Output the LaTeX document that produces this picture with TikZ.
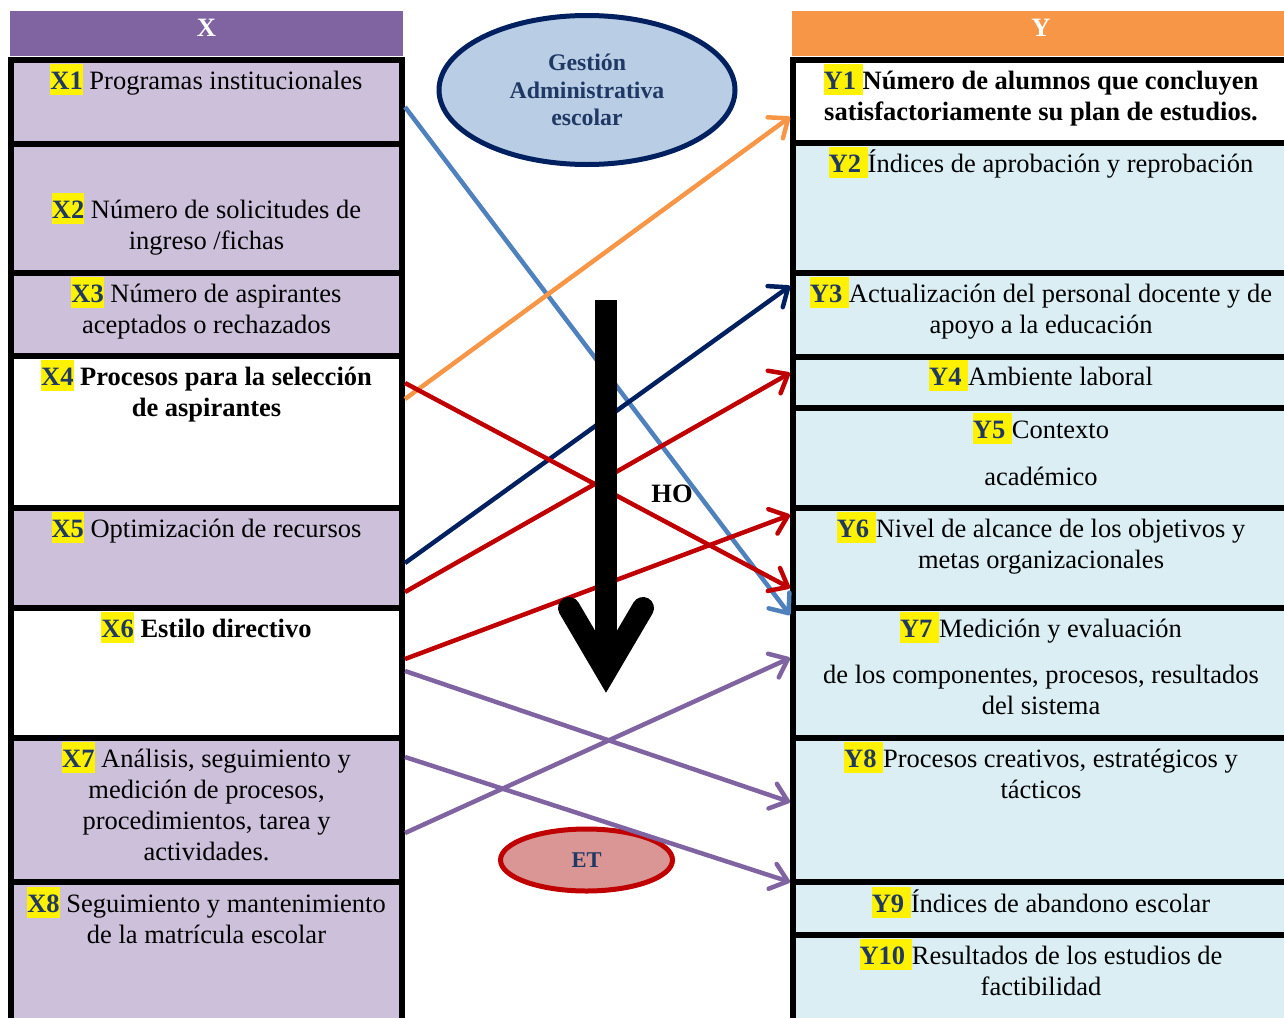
\documentclass[tikz,border=0pt]{standalone}
\usepackage{fontspec}
\setmainfont{Liberation Serif}
\usetikzlibrary{arrows.meta, shapes.geometric}
\definecolor{hdrX}{HTML}{8064A2}
\definecolor{hdrY}{HTML}{F79646}
\definecolor{cellX}{HTML}{CCC0DA}
\definecolor{cellY}{HTML}{DAEEF3}
\definecolor{labNavy}{HTML}{1F3864}
\definecolor{lnNavy}{HTML}{002060}
\definecolor{lnBlue}{HTML}{4F81BD}
\definecolor{lnRed}{HTML}{C00000}
\definecolor{lnOrange}{HTML}{F79646}
\definecolor{lnPurple}{HTML}{8064A2}
\definecolor{gestFill}{HTML}{B9CDE5}
\definecolor{etFill}{HTML}{D99694}
\newcommand{\etq}[1]{{\setlength{\fboxsep}{0pt}\colorbox{yellow}{\rule[-6pt]{0pt}{31pt}\textbf{\color{labNavy}#1}}}}

\begin{document}
\begin{tikzpicture}[x=1pt,y=-1pt]
    \tikzset{
      cell/.style={draw=black,line width=6pt,rectangle,inner sep=0pt},
      xcell/.style={cell,minimum width=391pt},
      ycell/.style={cell,minimum width=507pt},
      hdr/.style={rectangle,inner sep=0pt,minimum height=45pt},
      hdrtxt/.style={anchor=base,inner sep=0pt,text=white,font=\fontsize{26.5}{31}\selectfont\bfseries},
      txt/.style={anchor=base,align=center,inner sep=0pt,font=\fontsize{26.5}{31}\selectfont},
      txtb/.style={txt,font=\fontsize{26.5}{31}\selectfont\bfseries},
      lnk/.style={line width=4.5pt,-{Straight Barb[round,length=16pt,width=26pt]}},
      bigarrow/.style={line width=22pt,draw=black}
    }
    \def\xc{206.5}
    \def\yc{1041}
    \useasboundingbox (0,0) rectangle (1284,1017);
    \clip (0,0) rectangle (1284,1017);

    % column headers
    \node[hdr,fill=hdrX,minimum width=393pt] (hX) at (206.5,33.5) {};
    \node[hdr,fill=hdrY,minimum width=500pt] (hY) at (1042,33.5) {};
    \node[hdrtxt] (thX) at (\xc,36) {X};
    \node[hdrtxt] (thY) at (\yc,36) {Y};

    % cells
    \foreach \n/\t/\b/\f in {X1/60/144/cellX, X2/144/273/cellX, X3/273/356/cellX,
        X4/356/508/white, X5/508/608/cellX, X6/608/738/white, X7/738/882/cellX, X8/882/1030/cellX}
      \node[xcell,fill=\f,minimum height={\b-\t}] (\n) at (206.5,{(\t+\b)/2}) {};
    \foreach \n/\t/\b/\f in {Y1/60/143/white, Y2/143/273/cellY, Y3/273/357/cellY, Y4/357/408/cellY,
        Y5/408/508/cellY, Y6/508/608/cellY, Y7/608/738/cellY, Y8/738/882/cellY, Y9/882/935/cellY, Y10/935/1030/cellY}
      \node[ycell,fill=\f,minimum height={\b-\t}] (\n) at (1046.5,{(\t+\b)/2}) {};

    % texts X (base = last line)
    \node[txt] (tX1) at (\xc,89) {\etq{X1} Programas institucionales};
    \node[txt] (tX2) at (\xc,249) {\etq{X2} Número de solicitudes de\\ ingreso /fichas};
    \node[txt] (tX3) at (\xc,333) {\etq{X3} Número de aspirantes\\ aceptados o rechazados};
    \node[txtb] (tX4) at (\xc,416) {\etq{X4} Procesos para la selección\\ de aspirantes};
    \node[txt] (tX5) at (\xc,537) {\etq{X5} Optimización de recursos};
    \node[txtb] (tX6) at (\xc,637) {\etq{X6} Estilo directivo};
    \node[txt] (tX7) at (\xc,860) {\etq{X7} Análisis, seguimiento y\\ medición de procesos,\\ procedimientos, tarea y\\ actividades.};
    \node[txt] (tX8) at (\xc,943) {\etq{X8} Seguimiento y mantenimiento\\ de la matrícula escolar};

    % texts Y
    \node[txtb] (tY1) at (\yc,120) {\etq{Y1\ }Número de alumnos que concluyen\\ satisfactoriamente su plan de estudios.};
    \node[txt] (tY2) at (\yc,172) {\etq{Y2\ }Índices de aprobación y reprobación};
    \node[txt] (tY3) at (\yc,333) {\etq{Y3\ }Actualización del personal docente y de\\ apoyo a la educación};
    \node[txt] (tY4) at (\yc,385) {\etq{Y4\ }Ambiente laboral};
    \node[txt] (tY5) at (\yc,485) {\etq{Y5\ }Contexto\\[16pt] académico};
    \node[txt] (tY6) at (\yc,568) {\etq{Y6\ }Nivel de alcance de los objetivos y\\ metas organizacionales};
    \node[txt] (tY7) at (\yc,714) {\etq{Y7\ }Medición y evaluación\\[15pt] de los componentes, procesos, resultados\\ del sistema};
    \node[txt] (tY8) at (\yc,798) {\etq{Y8\ }Procesos creativos, estratégicos y\\ tácticos};
    \node[txt] (tY9) at (\yc,912) {\etq{Y9\ }Índices de abandono escolar};
    \node[txt] (tY10) at (\yc,995) {\etq{Y10\ }Resultados de los estudios de\\ factibilidad};

    % ellipses
    \node[ellipse,draw=lnNavy,line width=5pt,fill=gestFill,minimum width=296pt,minimum height=149pt,
      inner sep=0pt,align=center,text=labNavy,font=\fontsize{23.8}{27.5}\selectfont\bfseries] (gest) at (587,90)
      {Gestión\\ Administrativa\\ escolar};
    \node[ellipse,draw=lnRed,line width=5pt,fill=etFill,minimum width=172pt,minimum height=62pt,
      inner sep=0pt,text=labNavy,font=\fontsize{22.5}{27}\selectfont\bfseries] (et) at (586.5,860) {ET};

    % links
    \draw[lnk,draw=lnBlue] (X1.east |- 0,107) -- (Y7.west |- 0,615);
    \draw[lnk,draw=lnOrange] (X4.east |- 0,399) -- (Y1.west |- 0,117);
    \draw[lnk,draw=lnNavy] (X5.east |- 0,563) -- (Y3.west |- 0,286);
    \draw[lnk,draw=lnRed] (X5.east |- 0,592) -- (Y4.west |- 0,373);
    \draw[lnk,draw=lnRed] (X4.east |- 0,383) -- (Y6.west |- 0,588);
    \draw[lnk,draw=lnRed] (X6.east |- 0,659) -- (Y6.west |- 0,515);
    \draw[lnk,draw=lnPurple] (X6.east |- 0,671) -- (Y8.west |- 0,802);
    \draw[lnk,draw=lnPurple] (X7.east |- 0,833) -- (Y7.west |- 0,658);
    \draw[lnk,draw=lnPurple] (X7.east |- 0,757) -- (Y8.west |- 0,882);

    % big arrow
    \coordinate (hoTop) at (606,300);
    \coordinate (hoTip) at (606,671);
    \coordinate (hoL) at (569,608);
    \coordinate (hoR) at (643,608);
    \draw[bigarrow] (hoTop) -- (hoTip);
    \draw[bigarrow,line cap=round,line join=miter] (hoL) -- (hoTip) -- (hoR);
    \node[font=\fontsize{26.5}{31}\selectfont\bfseries,inner sep=0pt] (ho) at (672,494) {HO};
\end{tikzpicture}
\end{document}
